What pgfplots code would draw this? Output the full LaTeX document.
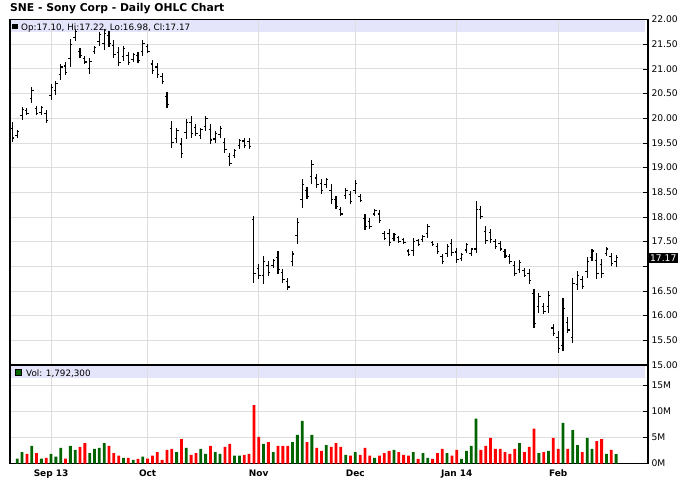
\documentclass[border=0pt]{standalone}
\usepackage{fontspec}
\setmainfont{DejaVu Sans}
\usepackage{pgfplots}
\pgfplotsset{compat=1.18}
\usepackage{pgfplotstable}

\definecolor{gridgray}{RGB}{222,222,222}
\definecolor{lav}{RGB}{228,228,250}
\definecolor{vgreen}{RGB}{0,100,0}
\definecolor{vred}{RGB}{255,0,0}

\pgfdeclareplotmark{otick}{\pgfpathmoveto{\pgfpoint{-1.9bp}{0bp}}\pgfpathlineto{\pgfpoint{0bp}{0bp}}\pgfusepathqstroke}
\pgfdeclareplotmark{ctick}{\pgfpathmoveto{\pgfpoint{0bp}{0bp}}\pgfpathlineto{\pgfpoint{1.9bp}{0bp}}\pgfusepathqstroke}

\pgfplotstableread{
i H L O C
0 19.92 19.52 19.80 19.60
1 19.76 19.60 19.65 19.73
2 20.22 19.97 20.05 20.17
3 20.20 20.06 20.16 20.09
4 20.63 20.31 20.41 20.57
5 20.24 20.07 20.19 20.10
6 20.25 20.07 20.12 20.21
7 20.16 19.91 20.09 19.96
8 20.70 20.37 20.47 20.63
9 20.76 20.47 20.56 20.70
10 21.10 20.78 20.88 21.04
11 21.14 20.88 21.06 20.93
12 21.60 21.04 21.21 21.49
13 21.80 21.56 21.63 21.75
14 21.42 21.23 21.36 21.27
15 21.27 21.11 21.22 21.14
16 21.22 20.90 21.00 21.16
17 21.46 21.31 21.36 21.43
18 21.75 21.46 21.55 21.69
19 21.80 21.38 21.51 21.72
20 21.76 21.45 21.67 21.51
21 21.58 21.22 21.47 21.29
22 21.45 21.05 21.33 21.13
23 21.47 21.17 21.26 21.41
24 21.35 21.07 21.27 21.13
25 21.33 21.15 21.20 21.29
26 21.35 21.13 21.28 21.17
27 21.58 21.27 21.36 21.52
28 21.50 21.32 21.45 21.36
29 21.19 20.90 21.10 20.96
30 21.13 20.82 21.04 20.88
31 20.92 20.70 20.85 20.74
32 20.54 20.21 20.44 20.28
33 19.95 19.40 19.79 19.51
34 19.81 19.50 19.59 19.75
35 19.60 19.20 19.48 19.28
36 19.99 19.59 19.71 19.91
37 20.05 19.60 19.92 19.69
38 19.89 19.65 19.82 19.70
39 19.81 19.59 19.66 19.77
40 20.05 19.75 19.84 19.99
41 19.89 19.48 19.77 19.56
42 19.75 19.50 19.58 19.70
43 19.85 19.60 19.68 19.80
44 19.60 19.30 19.51 19.36
45 19.30 19.04 19.22 19.09
46 19.38 19.20 19.25 19.34
47 19.59 19.38 19.44 19.55
48 19.60 19.40 19.54 19.44
49 19.60 19.38 19.53 19.42
50 18.02 16.67 17.95 16.85
51 17.05 16.75 16.96 16.81
52 17.21 16.65 16.82 17.10
53 17.11 16.81 17.02 16.87
54 17.15 16.97 17.02 17.11
55 17.31 16.85 17.17 16.94
56 16.95 16.67 16.87 16.73
57 16.76 16.53 16.69 16.58
58 17.31 17.01 17.10 17.25
59 17.98 17.46 17.62 17.88
60 18.77 18.19 18.36 18.65
61 18.61 18.37 18.54 18.42
62 19.16 18.67 18.82 19.06
63 18.88 18.59 18.79 18.65
64 18.77 18.47 18.68 18.53
65 18.80 18.59 18.65 18.76
66 18.66 18.27 18.54 18.35
67 18.43 18.17 18.35 18.22
68 18.21 18.02 18.15 18.06
69 18.59 18.36 18.43 18.54
70 18.53 18.27 18.45 18.32
71 18.74 18.46 18.54 18.68
72 18.47 18.31 18.42 18.34
73 18.07 17.74 17.97 17.81
74 17.98 17.76 17.91 17.80
75 18.16 18.02 18.06 18.13
76 18.14 17.88 18.06 17.93
77 17.71 17.54 17.66 17.57
78 17.76 17.42 17.66 17.49
79 17.68 17.52 17.57 17.65
80 17.62 17.48 17.58 17.51
81 17.58 17.46 17.54 17.48
82 17.35 17.21 17.31 17.24
83 17.58 17.21 17.32 17.51
84 17.56 17.42 17.52 17.45
85 17.64 17.49 17.54 17.61
86 17.86 17.58 17.66 17.80
87 17.52 17.42 17.49 17.44
88 17.48 17.25 17.41 17.30
89 17.25 17.05 17.19 17.09
90 17.46 17.18 17.26 17.40
91 17.56 17.21 17.46 17.28
92 17.38 17.07 17.29 17.13
93 17.27 17.11 17.16 17.24
94 17.48 17.27 17.33 17.44
95 17.38 17.21 17.26 17.35
96 18.33 17.27 17.35 18.15
97 18.23 17.96 18.15 18.01
98 17.82 17.46 17.71 17.53
99 17.76 17.48 17.68 17.54
100 17.56 17.36 17.50 17.40
101 17.52 17.31 17.46 17.35
102 17.35 17.17 17.30 17.21
103 17.25 17.05 17.19 17.09
104 17.10 16.80 17.01 16.86
105 17.13 16.86 16.94 17.08
106 16.97 16.78 16.91 16.82
107 16.94 16.65 16.85 16.71
108 16.55 15.76 16.45 15.85
109 16.46 16.06 16.18 16.38
110 16.26 16.04 16.19 16.08
111 16.50 16.06 16.19 16.41
112 15.83 15.58 15.75 15.63
113 15.68 15.24 15.55 15.33
114 16.35 15.29 15.40 16.15
115 15.97 15.65 15.87 15.71
116 16.76 15.45 15.55 16.65
117 16.90 16.52 16.63 16.82
118 16.81 16.54 16.73 16.59
119 17.18 16.77 16.89 17.10
120 17.36 17.10 17.18 17.31
121 17.28 16.75 17.12 16.86
122 17.15 16.77 17.04 16.85
123 17.39 17.21 17.26 17.35
124 17.26 17.01 17.19 17.06
125 17.22 16.98 17.10 17.17
}\ohlc

\pgfplotstableread{
i V
1 0.95
2 2.2
4 3.4
6 0.95
8 1.85
9 1.3
10 3.0
12 3.4
13 2.6
16 2.0
17 2.8
18 3.0
19 3.9
23 1.1
25 0.7
27 1.3
34 2.2
36 3.0
39 2.8
40 1.85
42 2.2
43 1.85
46 1.5
47 1.5
52 3.75
54 2.2
58 4.1
59 5.5
60 8.2
62 5.5
65 3.55
69 1.65
71 2.2
75 1.1
79 2.6
83 2.2
85 2.0
86 1.1
90 2.0
93 0.9
94 2.4
95 3.4
96 8.6
105 3.9
109 2.0
111 2.4
114 7.8
116 6.4
117 3.55
119 4.9
120 2.8
123 1.85
125 1.79
}\volg

\pgfplotstableread{
i V
3 1.85
5 2.0
7 1.1
11 0.95
14 3.2
15 3.9
20 3.4
21 2.0
22 1.5
24 1.1
26 0.9
28 0.95
29 1.5
30 2.2
31 0.7
32 2.6
33 2.8
35 4.7
37 1.65
38 2.0
41 3.4
44 3.2
45 3.75
48 1.65
49 1.85
50 11.2
51 5.1
53 4.1
55 3.4
56 3.4
57 3.4
61 4.1
63 3.0
64 2.4
66 3.2
67 3.9
68 3.2
70 1.5
72 1.65
73 3.0
74 1.5
76 1.5
77 2.0
78 2.4
80 2.2
81 1.65
82 1.5
84 0.9
87 0.9
88 2.0
89 2.8
91 1.5
92 2.6
97 2.6
98 3.4
99 4.9
100 2.8
101 2.8
102 2.2
103 1.85
104 2.8
106 2.2
107 3.2
108 6.7
110 2.2
112 4.9
113 2.8
115 2.8
118 2.2
121 4.3
122 4.7
124 2.6
}\volr

\pgfplotsset{
  panel/.style={
    scale only axis, width=638bp,
    xmin=-0.5, xmax=131.6,
    axis line style={line width=1.1bp, black},
    xtick={8,28,51,71,92,113},
    xtick style={draw=none},
    grid=major,
    major grid style={line width=0.9bp, gridgray},
    tick align=inside,
    ytick pos=right, yticklabel pos=right,
    major tick length=5bp,
    ytick style={line width=0.8bp, black},
    tick label style={font=\fontsize{9.2}{11}\selectfont, black},
    /pgf/number format/assume math mode=true,
  }
}

\begin{document}
\begin{tikzpicture}
\path[use as bounding box] (0bp,0bp) rectangle (688bp,-503bp);

% legend bands (behind everything)
\fill[lav] (10.5bp,-20.3bp) rectangle (645bp,-32bp);
\fill[lav] (10.5bp,-366bp) rectangle (645bp,-377.5bp);

\begin{axis}[panel,
  at={(10bp,-365bp)}, anchor=south west,
  height=345.4bp,
  ymin=15, ymax=22,
  ytick={15,15.5,16,16.5,17,17.5,18,18.5,19,19.5,20,20.5,21,21.5,22},
  yticklabels={15.00,15.50,16.00,16.50,,17.50,18.00,18.50,19.00,19.50,20.00,20.50,21.00,21.50,22.00},
  xticklabels={},
]
\addplot[black, only marks, mark=otick, mark options={line width=1.1bp},
  error bars/.cd, y dir=both, y explicit, error mark=none,
  error bar style={line width=1.1bp, black}]
  table[x=i, y=O, y error plus expr=\thisrow{H}-\thisrow{O}, y error minus expr=\thisrow{O}-\thisrow{L}] {\ohlc};
\addplot[black, only marks, mark=ctick, mark options={line width=1.1bp}]
  table[x=i, y=C] {\ohlc};
\coordinate (lastp) at (axis cs:131.6,17.17);
\end{axis}

\begin{axis}[panel,
  at={(10bp,-463.5bp)}, anchor=south west,
  height=98.5bp,
  ymin=0, ymax=18.9,
  ytick={0,5,10,15},
  yticklabels={0M,5M,10M,15M},
  xticklabels={Sep 13,Oct,Nov,Dec,Jan 14,Feb},
  xticklabel style={font=\bfseries\fontsize{9}{11}\selectfont, black, yshift=-2.5bp},
]
\addplot[ybar, bar width=2.8bp, bar shift=0pt, fill=vgreen, draw=none] table[x=i, y=V] {\volg};
\addplot[ybar, bar width=2.8bp, bar shift=0pt, fill=vred, draw=none] table[x=i, y=V] {\volr};
\end{axis}

\node[anchor=west, fill=black, text=white, inner sep=1.4bp, font=\fontsize{9.2}{11}\selectfont] at ([xshift=0.5bp]lastp) {17.17};

\node[anchor=base west, inner sep=0, font=\bfseries\fontsize{10.8}{12}\selectfont] at (10bp,-11.5bp) {SNE - Sony Corp - Daily OHLC Chart};

\fill[black] (12bp,-23.5bp) rectangle (17.5bp,-29bp);
\node[anchor=base west, inner sep=0, font=\fontsize{8.8}{10}\selectfont] at (21bp,-30bp) {Op:17.10, Hi:17.22, Lo:16.98, Cl:17.17};

\filldraw[fill=vgreen, draw=black, line width=0.5bp] (15bp,-369.5bp) rectangle (21.5bp,-375.5bp);
\node[anchor=base west, inner sep=0, font=\fontsize{8.8}{10}\selectfont] at (26bp,-376bp) {Vol: 1,792,300};
\end{tikzpicture}
\end{document}
